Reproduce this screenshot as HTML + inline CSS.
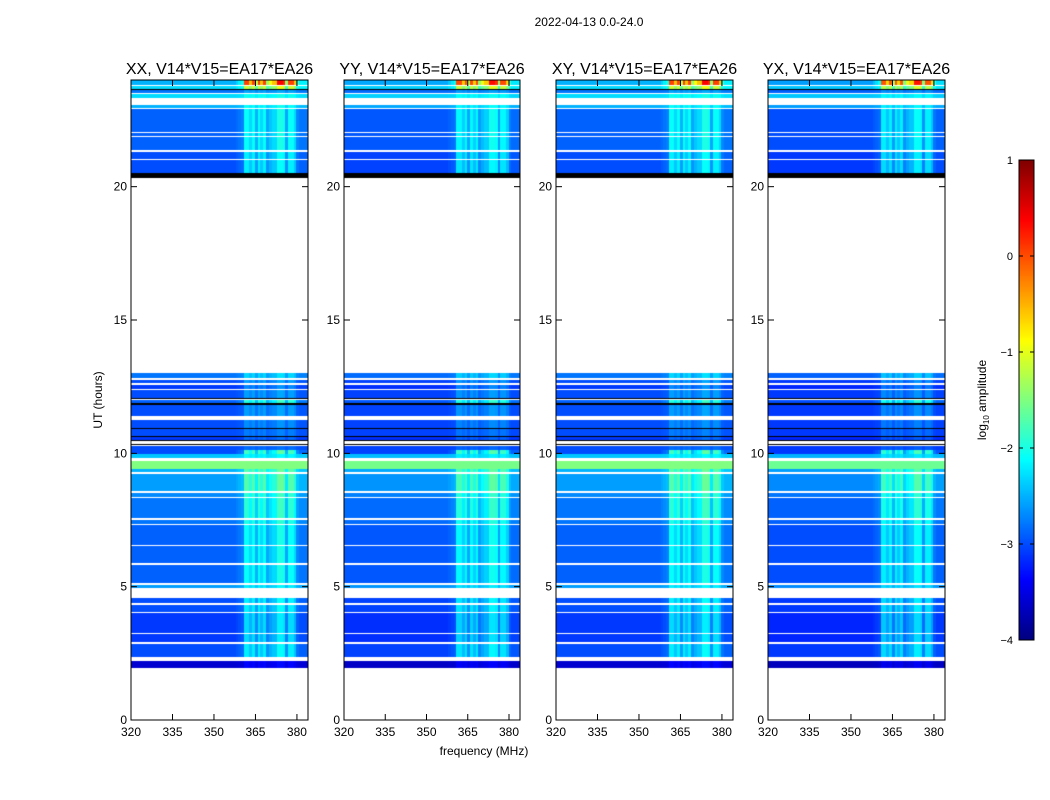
<!DOCTYPE html>
<html><head><meta charset="utf-8">
<style>
body{margin:0;background:#fff;}
#wrap{position:relative;width:1050px;height:800px;overflow:hidden;background:#fff;font-family:"Liberation Sans",sans-serif;}
canvas{position:absolute;}
svg{position:absolute;left:0;top:0;}
</style></head>
<body>
<div id="wrap">
<canvas id="c0" width="177" height="640" style="left:131px;top:80px"></canvas>
<canvas id="c1" width="176" height="640" style="left:344px;top:80px"></canvas>
<canvas id="c2" width="177" height="640" style="left:556px;top:80px"></canvas>
<canvas id="c3" width="177" height="640" style="left:768px;top:80px"></canvas>
<canvas id="cb" width="15" height="480" style="left:1019px;top:160px"></canvas>
<svg id="ov" width="1050" height="800"></svg>
</div>
<script>
// ---- data ----
const panelTitles = ["XX, V14*V15=EA17*EA26","YY, V14*V15=EA17*EA26","XY, V14*V15=EA17*EA26","YX, V14*V15=EA17*EA26"];
const xTicks = [320,335,350,365,380];
const yTicks = [0,5,10,15,20];
const cbTicks = [1,0,-1,-2,-3,-4];
// channel profile: RFI boost per 1 MHz channel, 320..383 MHz
const channelBoost = [0,0,0,0,0,0,0,0,0,0, 0,0,0,0,0,0,0,0,0,0, 0,0,0,0,0,0,0,0,0,0, 0,0,0,0,0,0,0,0,0.05,0.1,
 0.15,0.8,0.8,0.6,0.8,0.4,0.8,0.6,0.8,0.35, 0.5,0.6,0.6,0.9,0.9,0.85,0.35,0.8,0.8,0.6, 0.2,0.1,0.1,0.1];
// time segments: start hour, end hour, base log10 level (-9 = flagged black), rfi factor
const segStart = [1.95,2.35,2.9,3.25,4.05,4.35,4.95,5.12,5.85,6.55,7.35,7.55,8.35,8.55,9.3,9.4,9.8,9.95,10.1,10.3,10.42,10.47,10.6,10.65,10.9,10.95,11.4,11.8,11.87,12.0,12.05,12.4,12.62,12.82,20.3,20.5,21.05,21.35,21.9,22.05,22.95,23.3,23.5,23.6,23.65,23.77,23.82];
const segEnd   = [2.2,2.85,3.2,4.0,4.3,4.55,5.05,5.8,6.5,7.3,7.5,8.3,8.5,9.2,9.4,9.7,9.95,10.1,10.25,10.35,10.47,10.6,10.65,10.9,10.95,11.25,11.8,11.87,12.0,12.05,12.35,12.55,12.75,13.0,20.5,21.0,21.3,21.85,22.0,22.9,23.05,23.45,23.6,23.65,23.77,23.82,24.0];
const segLevel = [-3.6,-3.0,-3.1,-3.1,-3.0,-3.0,-2.6,-2.9,-2.9,-2.9,-2.8,-2.8,-2.7,-2.6,-2.5,-1.5,-2.4,-3.0,-3.0,-9,-9,-3.1,-9,-3.0,-9,-3.0,-3.0,-9,-2.9,-9,-3.0,-3.1,-3.0,-2.8,-9,-3.0,-3.0,-2.9,-2.9,-2.9,-2.5,-2.3,-2.8,-9,-2.3,-9,-2.5];
const segRfi   = [0.3,1,1,1,1,1,0.5,1,1,1,1,1.1,1,1.1,1,0,0.3,1.5,0.2,0,0,0.3,0,0.3,0,0.4,0.5,0,1.2,0,0.5,0.5,0.5,0.6,0,1,1,1,1,1,0.5,0.3,0.3,0,1.5,0,3.2];
const panelOffset = [0,-0.05,0,-0.1];

function jet(v){ // v in 0..1
  const r=Math.min(1,Math.max(0,1.5-Math.abs(4*v-3)));
  const g=Math.min(1,Math.max(0,1.5-Math.abs(4*v-2)));
  const b=Math.min(1,Math.max(0,1.5-Math.abs(4*v-1)));
  return `rgb(${Math.round(r*255)},${Math.round(g*255)},${Math.round(b*255)})`;
}
function colorOf(l){ if(l<-8) return '#000'; return jet((Math.min(1,Math.max(-4,l))+4)/5); }
function yPix(h){ return 720 - h*640/24; }
const fMin=320,fMax=384;

[0,1,2,3].forEach(p=>{
  const cv=document.getElementById('c'+p), ctx=cv.getContext('2d'), W=cv.width;
  const xs=f=>(f-fMin)/(fMax-fMin)*W;
  for(let s=0;s<segStart.length;s++){
    const y0=yPix(segEnd[s])-80, y1=yPix(segStart[s])-80;
    for(let c=0;c<channelBoost.length;c++){
      const l = segLevel[s]<-8 ? -9 : segLevel[s]+panelOffset[p]+channelBoost[c]*segRfi[s];
      ctx.fillStyle=colorOf(l);
      const x0=Math.floor(xs(fMin+c)), x1=Math.ceil(xs(fMin+c+1));
      ctx.fillRect(x0,Math.floor(y0),x1-x0,Math.max(1,Math.round(y1-y0)));
    }
  }
});
// colorbar
(function(){const cv=document.getElementById('cb'),ctx=cv.getContext('2d');
 for(let i=0;i<480;i++){ctx.fillStyle=jet(1-i/479);ctx.fillRect(0,i,15,1);} })();

// ---- axes overlay ----
const svg=document.getElementById('ov'), NS='http://www.w3.org/2000/svg';
function mk(t,a,parent){const e=document.createElementNS(NS,t);for(const k in a)e.setAttribute(k,a[k]);(parent||svg).appendChild(e);return e;}
function txt(s,a){const e=mk('text',Object.assign({'font-family':'Liberation Sans, sans-serif',fill:'#000'},a));e.textContent=s;return e;}
const panelX=[[131,308],[344,520],[556,733],[768,945]];
panelX.forEach((px,p)=>{
  const [L,R]=px, xs=f=>L+(f-fMin)/(fMax-fMin)*(R-L);
  const fr=mk('rect',{x:L,y:80,width:R-L,height:640,fill:'none',stroke:'#000','stroke-width':1});
  
  
  const tt=txt(panelTitles[p],{x:(L+R)/2,y:74,'font-size':16,'text-anchor':'middle'});
  
  
  xTicks.forEach(v=>{const x=xs(v);
    mk('line',{x1:x,x2:x,y1:720,y2:714,stroke:'#000'});mk('line',{x1:x,x2:x,y1:80,y2:86,stroke:'#000'});
    const t=txt(String(v),{x:x,y:736,'font-size':12,'text-anchor':'middle'});
    
    });
  yTicks.forEach(v=>{const y=yPix(v);
    mk('line',{x1:L,x2:L+6,y1:y,y2:y,stroke:'#000'});mk('line',{x1:R,x2:R-6,y1:y,y2:y,stroke:'#000'});
    const t=txt(String(v),{x:L-4,y:y+4,'font-size':12,'text-anchor':'end'});
    
    });
});
const cbf=mk('rect',{x:1019,y:160,width:15,height:480,fill:'none',stroke:'#000'});


cbTicks.forEach(v=>{const y=160+(1-v)*96;
  mk('line',{x1:1019,x2:1023,y1:y,y2:y,stroke:'#000'});mk('line',{x1:1034,x2:1030,y1:y,y2:y,stroke:'#000'});
  const t=txt(v<0?'\u2212'+(-v):String(v),{x:1013,y:y+4,'font-size':11,'text-anchor':'end'});
  
  });
const sup=txt('2022-04-13 0.0-24.0',{x:589,y:26,'font-size':12,'text-anchor':'middle'});


const yl=txt('UT (hours)',{x:0,y:0,'font-size':12,'text-anchor':'middle',transform:'translate(102,400) rotate(-90)'});


const xl=txt('frequency (MHz)',{x:484,y:755,'font-size':12,'text-anchor':'middle'});


const cl=mk('text',{'font-family':'Liberation Sans, sans-serif','font-size':12,'text-anchor':'middle',transform:'translate(986,400) rotate(-90)'});
cl.innerHTML='log<tspan font-size="8" dy="3">10</tspan><tspan dy="-3"> amplitude</tspan>';


</script>
</body></html>
